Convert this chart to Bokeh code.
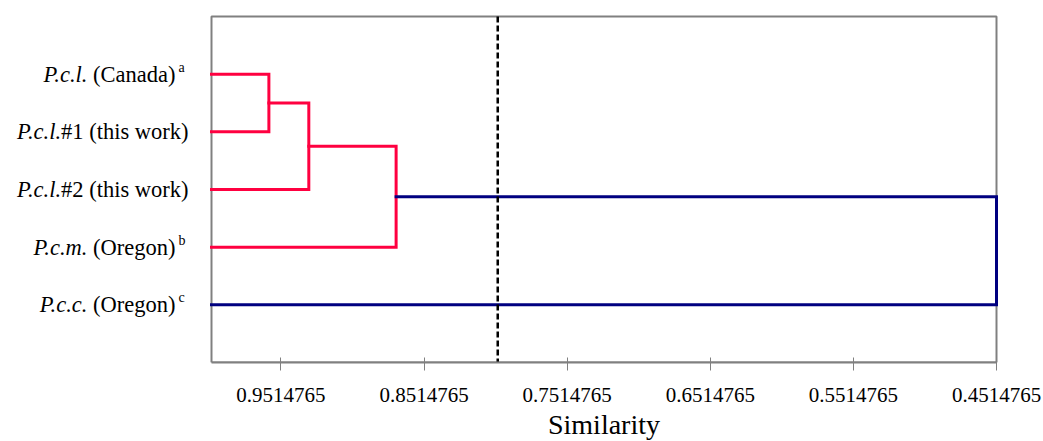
from bokeh.plotting import figure
from bokeh.models import Range1d, FixedTicker, CustomJSTickFormatter, Title
from bokeh.core.properties import value
from bokeh.embed import file_html
from bokeh.resources import INLINE

# ---- data ----
leaf_italic = ["P.c.l.", "P.c.l.", "P.c.l.", "P.c.m.", "P.c.c."]
leaf_roman = [" (Canada)", "#1 (this work)", "#2 (this work)", " (Oregon)", " (Oregon)"]
leaf_sup = ["a", "", "", "b", "c"]
# merges: cluster a, cluster b, similarity (clusters 0-4 are leaves, 5.. are merges)
merge_a = [0, 5, 6, 7]
merge_b = [1, 2, 3, 4]
merge_sim = [0.9599, 0.9320, 0.8710, 0.4514765]
leaf_sim = 1.0
cutoff = 0.80
tick_values = [0.9514765, 0.8514765, 0.7514765, 0.6514765, 0.5514765, 0.4514765]
tick_labels = ["0.9514765", "0.8514765", "0.7514765", "0.6514765", "0.5514765", "0.4514765"]
x_title = "Similarity"

RED = "#FF0040"
BLUE = "#000080"
GRAY = "#808080"
FONT = "Liberation Serif"

# ---- layout (pixels) ----
W_PX, H_PX = 1043, 441
BOX_L, BOX_R, BOX_T, BOX_B = 211, 996, 16, 362
PAD = 3
x_lo, x_hi = leaf_sim, tick_values[-1]
kx = (BOX_R - BOX_L) / (x_lo - x_hi)          # px per unit
ky = (BOX_B - BOX_T) / 6.0
x_start = x_lo + BOX_L / kx
x_end = x_hi - PAD / kx
y_top = 0 - PAD / ky

# Times-metric advance widths (Liberation Serif is metric compatible)
W = {' ': 250, '(': 333, ')': 333, '#': 500, 'C': 667, 'O': 722, 'a': 444, 'n': 500, 'd': 500,
     't': 278, 'h': 500, 'i': 278, 's': 389, 'w': 722, 'o': 500, 'r': 333, 'k': 500, 'e': 444,
     'g': 500, 'S': 556, 'm': 778, 'l': 278, 'y': 500}
def tw(s, size):
    return sum(W.get(c, 500) for c in s) / 1000.0 * size

# ---- dendrogram geometry ----
pos_x = [leaf_sim] * len(leaf_italic)
pos_y = [i + 1 for i in range(len(leaf_italic))]
xs, ys, cols = [], [], []
for a, b, h in zip(merge_a, merge_b, merge_sim):
    xa, ya, xb, yb = pos_x[a], pos_y[a], pos_x[b], pos_y[b]
    xs.append([xa, h, h, xb])
    ys.append([ya, ya, yb, yb])
    cols.append(RED if h >= cutoff else BLUE)
    pos_x.append(h)
    pos_y.append((ya + yb) / 2)

p = figure(width=W_PX, height=H_PX,
           x_range=Range1d(x_start, x_end), y_range=Range1d(6, y_top),
           output_backend="svg", toolbar_location=None,
           min_border_left=0, min_border_right=W_PX - BOX_R - PAD,
           min_border_top=BOX_T - PAD, min_border_bottom=H_PX - BOX_B)
p.xgrid.visible = False
p.ygrid.visible = False
p.yaxis.visible = False
p.outline_line_color = None
p.background_fill_color = "white"
p.border_fill_color = "white"

# gray plot box
p.quad(left=[x_lo], right=[x_hi], top=[0], bottom=[6], fill_color=None,
       line_color=GRAY, line_width=2)

p.multi_line(xs=xs, ys=ys, line_color=cols, line_width=3, line_join="miter", line_cap="square")

# cut-off line
p.segment(x0=[cutoff], y0=[0], x1=[cutoff], y1=[6], line_color="black",
          line_width=2.5, line_dash="6 3")

ax = p.xaxis[0]
ax.bounds = (x_hi, x_lo)
ax.ticker = FixedTicker(ticks=tick_values)
ax.formatter = CustomJSTickFormatter(code="return tick.toFixed(7);")
ax.major_label_overrides = dict(zip(tick_values, tick_labels))
ax.minor_tick_line_color = None
ax.axis_line_color = GRAY
ax.axis_line_width = 2
ax.major_tick_line_color = GRAY
ax.major_tick_line_width = 1
ax.major_tick_in = 5
ax.major_tick_out = 8
ax.major_label_standoff = 17
ax.major_label_text_font = FONT
ax.major_label_text_font_size = "21px"
ax.major_label_text_color = "black"

# axis title, centred under the plot box
TS = 28
p.add_layout(Title(text=x_title, align="left", offset=(BOX_L + BOX_R) / 2 - tw(x_title, TS) / 2,
                   standoff=4, text_font=FONT, text_font_size=f"{TS}px",
                   text_font_style="normal", text_color="black"), "below")

# ---- leaf labels (italic + roman + superscript) ----
LS = 22.5    # label font size
SS = 14      # superscript font size
R = -23      # right edge of labels relative to box left
rx, ix, sx, sy_, rt, it, st, ly = [], [], [], [], [], [], [], []
for k in range(len(leaf_italic)):
    sup_w = 13 if leaf_sup[k] else 0
    rr = R - sup_w
    rx.append(rr)
    ix.append(rr - tw(leaf_roman[k], LS))
    rt.append(leaf_roman[k].strip())
    it.append(leaf_italic[k])
    ly.append(k + 1)
    if leaf_sup[k]:
        sx.append(rr + 3)
        st.append(leaf_sup[k])
        sy_.append(k + 1)

lx = [leaf_sim] * len(ly)
p.text(x=lx, y=ly, text=rt, x_offset=rx, text_align="right", text_baseline="middle",
       text_font=value(FONT), text_font_size=value(f"{LS}px"), text_color="black")
p.text(x=lx, y=ly, text=it, x_offset=ix, text_align="right", text_baseline="middle",
       text_font=value(FONT), text_font_size=value(f"{LS}px"), text_font_style="italic",
       text_color="black")
p.text(x=[leaf_sim] * len(sy_), y=sy_, text=st, x_offset=sx, y_offset=-7, text_align="left",
       text_baseline="middle", text_font=value(FONT), text_font_size=value(f"{SS}px"),
       text_color="black")

open("out.html", "w").write(file_html(p, INLINE))
